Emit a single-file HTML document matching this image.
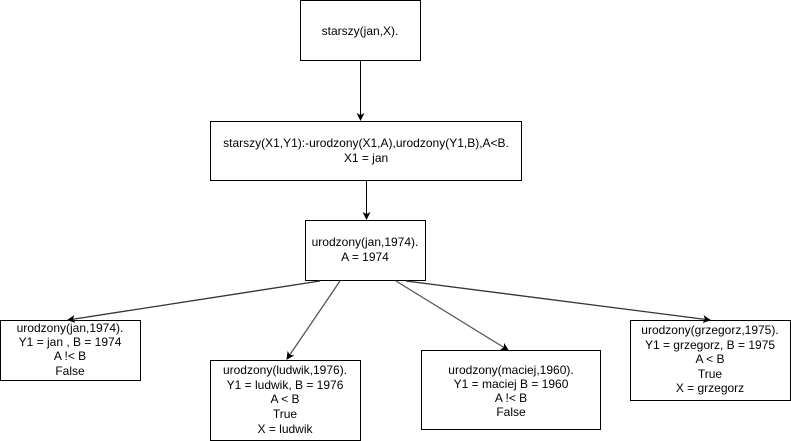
<!DOCTYPE html>
<html><head><meta charset="utf-8"><style>
body{margin:0;background:#fff;}
svg{display:block;font-family:"Liberation Sans",Arial,sans-serif;font-size:12px;}
text{fill:#000;text-anchor:middle;}
</style></head><body>
<svg width="791" height="441" viewBox="0 0 791 441">
<defs><marker id="a" markerWidth="8" markerHeight="8" refX="7" refY="4" orient="auto" markerUnits="userSpaceOnUse"><path d="M0,0 L8,4 L0,8 L2,4 z" fill="#000"/></marker></defs>
<g fill="#fff" stroke="#000" stroke-width="1">
<rect x="300.5" y="0.5" width="120" height="60"/>
<rect x="210.5" y="121.5" width="311" height="59"/>
<rect x="305.5" y="220.5" width="120" height="60"/>
<rect x="0.5" y="320.5" width="140" height="60"/>
<rect x="210.5" y="360.5" width="150" height="80"/>
<rect x="421.5" y="350.5" width="179" height="79"/>
<rect x="630.5" y="320.5" width="160" height="80"/>
</g>
<g stroke="#000" stroke-width="1" fill="none" marker-end="url(#a)">
<line x1="360.5" y1="61" x2="360.5" y2="120"/>
<line x1="366.5" y1="181" x2="366.5" y2="219"/>
<line x1="320" y1="281" x2="68" y2="320" stroke="#333" stroke-width="1.3"/>
<line x1="340" y1="281" x2="287" y2="359" stroke="#555" stroke-width="1.3"/>
<line x1="396" y1="281" x2="508" y2="350" stroke="#555" stroke-width="1.3"/>
<line x1="406" y1="281" x2="710" y2="320" stroke="#333" stroke-width="1.3"/>
</g>
<text x="360" y="35">starszy(jan,X).</text>
<text x="366" y="147">starszy(X1,Y1):-urodzony(X1,A),urodzony(Y1,B),A&lt;B.</text>
<text x="366" y="162">X1 = jan</text>
<text x="365" y="246">urodzony(jan,1974).</text>
<text x="365" y="261">A = 1974</text>
<text x="70" y="332">urodzony(jan,1974).</text>
<text x="70" y="346">Y1 = jan , B = 1974</text>
<text x="70" y="360">A !&lt; B</text>
<text x="70" y="375">False</text>
<text x="285" y="374">urodzony(ludwik,1976).</text>
<text x="285" y="389">Y1 = ludwik, B = 1976</text>
<text x="285" y="403">A &lt; B</text>
<text x="285" y="418">True</text>
<text x="285" y="433">X = ludwik</text>
<text x="511" y="374">urodzony(maciej,1960).</text>
<text x="511" y="388">Y1 = maciej B = 1960</text>
<text x="511" y="402">A !&lt; B</text>
<text x="511" y="416">False</text>
<text x="710" y="334">urodzony(grzegorz,1975).</text>
<text x="710" y="349">Y1 = grzegorz, B = 1975</text>
<text x="710" y="363">A &lt; B</text>
<text x="710" y="378">True</text>
<text x="710" y="392">X = grzegorz</text>
</svg>
</body></html>
